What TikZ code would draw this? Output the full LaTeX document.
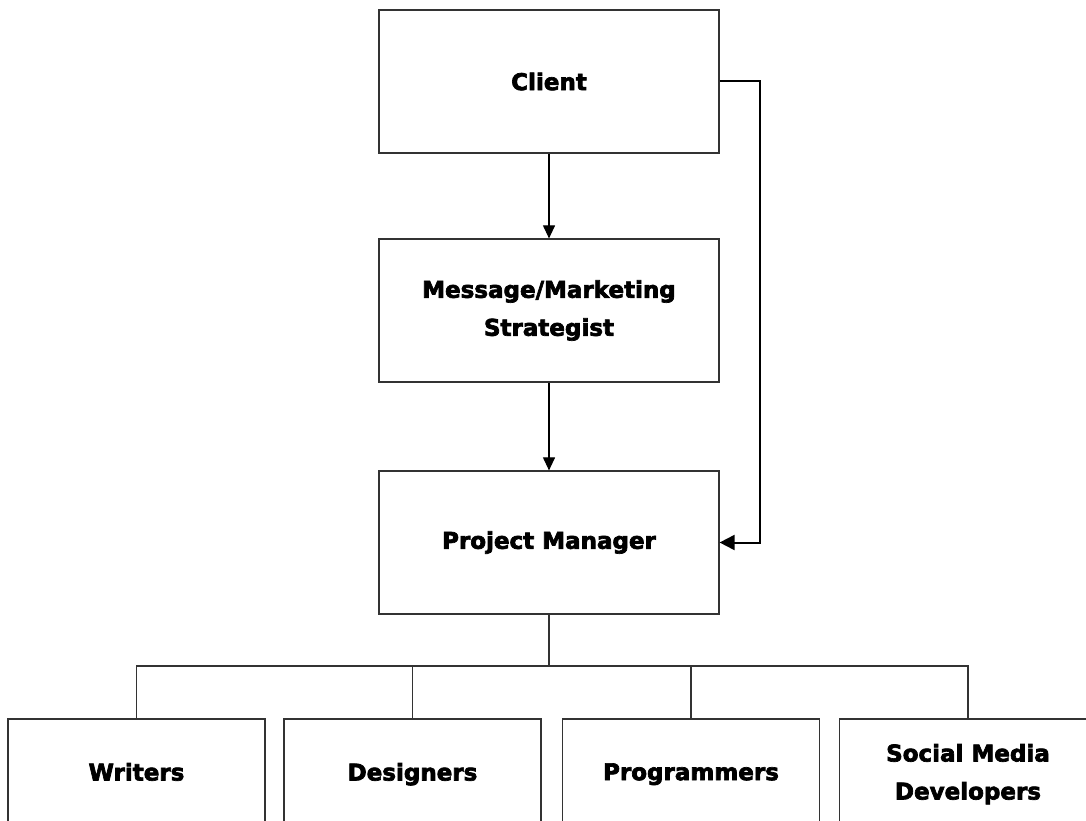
\documentclass[tikz,border=0pt]{standalone}
\usepackage{fontspec}
\setmainfont{DejaVu Sans}[BoldFeatures={FakeBold=3}]
\usetikzlibrary{arrows.meta}

\begin{document}
\begin{tikzpicture}[
  x=1pt, y=-1pt,
  box/.style={rectangle, draw=black!80, line width=1.2pt,
              minimum width=340pt, minimum height=143pt,
              align=center, font=\bfseries\fontsize{23}{38}\selectfont},
  team/.style={box, minimum width=257pt, minimum height=108pt,
               text depth=0.25em},
  arr/.style={-{Triangle[length=13pt, width=12pt]}, line width=1.1pt},
  link/.style={draw=black!80, line width=1.2pt},
]
  \useasboundingbox (0,0) rectangle (1086,821);
  \clip (0,0) rectangle (1086,821);

  % chain of command
  \node[box] (client) at (549, 81.5) {Client};
  \node[box] (msg)    at (549, 310.5) {Message/Marketing\\Strategist};
  \node[box] (pm)     at (549, 542.5) {Project Manager};

  % teams under the project manager
  \node[team] (writers)     at (136.5, 773) {Writers};
  \node[team] (designers)   at (412.5, 773) {Designers};
  \node[team] (programmers) at (691,   773) {Programmers};
  \node[team] (social)      at (968,   773) {Social Media\\Developers};

  \draw[arr] (client.south) -- (msg.north);
  \draw[arr] (msg.south) -- (pm.north);
  \draw[arr, line width=2pt, -{Triangle[length=15pt, width=15pt]}]
    (client.east) -- ++(40,0) |- (pm.east);

  \coordinate (bus) at (549, 666);
  \draw[link] (pm.south) -- (bus);
  \foreach \n in {writers, designers, programmers, social}
    \draw[link] (bus) -| (\n.north);
\end{tikzpicture}
\end{document}
